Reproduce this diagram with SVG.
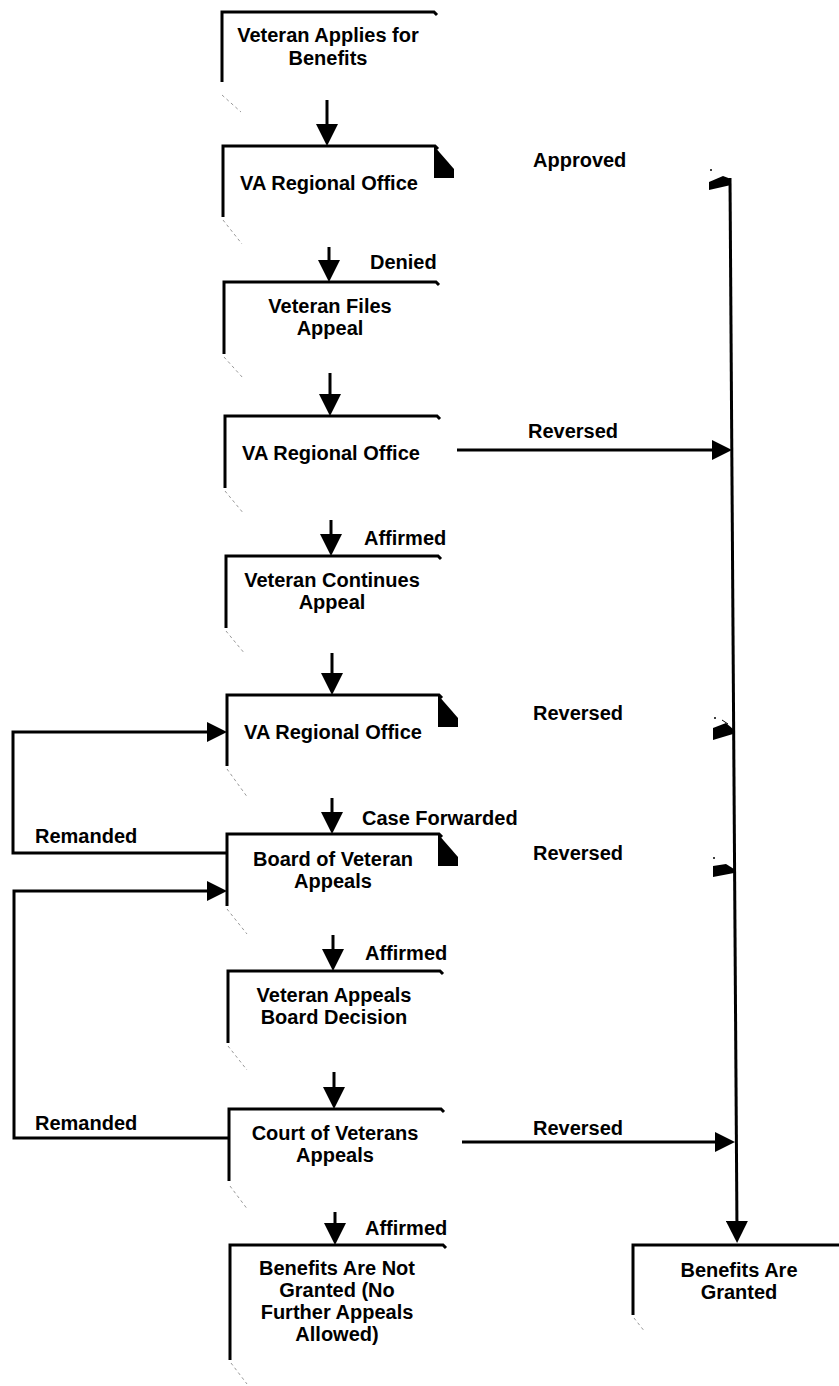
<svg xmlns="http://www.w3.org/2000/svg" width="839" height="1386" viewBox="0 0 839 1386">
<style>
.box{fill:none;stroke:#000;stroke-width:3;stroke-linejoin:miter}
.fold{fill:#000}
.t{font-family:"Liberation Sans",Arial,sans-serif;font-weight:bold;font-size:20px;text-anchor:middle;fill:#000}
.l{font-family:"Liberation Sans",Arial,sans-serif;font-weight:bold;font-size:20px;fill:#000}
.dash{stroke:#999;stroke-width:1;stroke-dasharray:3 3;fill:none}
.c{fill:none;stroke:#000;stroke-width:3}
.h{fill:#000}
</style>
<defs>
<marker id="ad" markerUnits="userSpaceOnUse" markerWidth="22" markerHeight="22" refX="12" refY="11" orient="auto" viewBox="0 0 22 22">
<path d="M0,0 L22,11 L0,22 Z" fill="#000"/>
</marker>
<marker id="ar" markerUnits="userSpaceOnUse" markerWidth="20" markerHeight="20" refX="10" refY="10" orient="auto" viewBox="0 0 20 20">
<path d="M0,0 L20,10 L0,20 Z" fill="#000"/>
</marker>
</defs>

<g id="n1">
<path class="box" d="M222,82 V12 H434 l3,3"/>
<text class="t" x="328" y="42">Veteran Applies for</text>
<text class="t" x="328" y="65">Benefits</text>
<line class="dash" x1="222" y1="95" x2="241" y2="112"/>
</g>
<g id="n2">
<path class="box" d="M223,217 V146 H435 l3,3"/>
<polygon class="fold" points="434,146 454,169 454,178 434,178"/>
<text class="t" x="329" y="190">VA Regional Office</text>
<line class="dash" x1="223" y1="220" x2="242" y2="244"/>
</g>
<g id="n3">
<path class="box" d="M224,354 V282 H436 l3,3"/>
<text class="t" x="330" y="313">Veteran Files</text>
<text class="t" x="330" y="335">Appeal</text>
<line class="dash" x1="224" y1="357" x2="243" y2="378"/>
</g>
<g id="n4">
<path class="box" d="M225,488 V416 H437 l3,3"/>
<text class="t" x="331" y="460">VA Regional Office</text>
<line class="dash" x1="225" y1="491" x2="244" y2="514"/>
</g>
<g id="n5">
<path class="box" d="M226,628 V556 H438 l3,3"/>
<text class="t" x="332" y="587">Veteran Continues</text>
<text class="t" x="332" y="609">Appeal</text>
<line class="dash" x1="226" y1="631" x2="245" y2="654"/>
</g>
<g id="n6">
<path class="box" d="M227,766 V695 H439 l3,3"/>
<polygon class="fold" points="438,695 458,718 458,727 438,727"/>
<text class="t" x="333" y="739">VA Regional Office</text>
<line class="dash" x1="227" y1="769" x2="248" y2="798"/>
</g>
<g id="n7">
<path class="box" d="M227,906 V834 H439 l3,3"/>
<polygon class="fold" points="438,834 458,857 458,866 438,866"/>
<text class="t" x="333" y="866">Board of Veteran</text>
<text class="t" x="333" y="888">Appeals</text>
<line class="dash" x1="227" y1="909" x2="247" y2="934"/>
</g>
<g id="n8">
<path class="box" d="M228,1043 V971 H440 l3,3"/>
<text class="t" x="334" y="1002">Veteran Appeals</text>
<text class="t" x="334" y="1024">Board Decision</text>
<line class="dash" x1="228" y1="1046" x2="247" y2="1070"/>
</g>
<g id="n9">
<path class="box" d="M229,1181 V1109 H441 l3,3"/>
<text class="t" x="335" y="1140">Court of Veterans</text>
<text class="t" x="335" y="1162">Appeals</text>
<line class="dash" x1="230" y1="1186" x2="248" y2="1210"/>
</g>
<g id="n10">
<path class="box" d="M230,1360 V1245 H443 l3,3"/>
<text class="t" x="337" y="1275">Benefits Are Not</text>
<text class="t" x="337" y="1297">Granted (No</text>
<text class="t" x="337" y="1319">Further Appeals</text>
<text class="t" x="337" y="1341">Allowed)</text>
<line class="dash" x1="231" y1="1363" x2="247" y2="1384"/>
</g>
<g id="n11">
<path class="box" d="M633,1315 V1245 H839"/>
<text class="t" x="739" y="1277">Benefits Are</text>
<text class="t" x="739" y="1299">Granted</text>
<line class="dash" x1="634" y1="1318" x2="645" y2="1332"/>
</g>

<g id="connectors">
<line class="c" x1="327" y1="100" x2="327" y2="136" marker-end="url(#ad)"/>
<line class="c" x1="329" y1="247" x2="329" y2="272" marker-end="url(#ad)"/>
<line class="c" x1="330" y1="373" x2="330" y2="406" marker-end="url(#ad)"/>
<line class="c" x1="331" y1="520" x2="331" y2="546" marker-end="url(#ad)"/>
<line class="c" x1="332" y1="653" x2="332" y2="685" marker-end="url(#ad)"/>
<line class="c" x1="332" y1="798" x2="332" y2="824" marker-end="url(#ad)"/>
<line class="c" x1="333" y1="935" x2="333" y2="961" marker-end="url(#ad)"/>
<line class="c" x1="334" y1="1072" x2="334" y2="1099" marker-end="url(#ad)"/>
<line class="c" x1="335" y1="1212" x2="335" y2="1235" marker-end="url(#ad)"/>

<line class="c" x1="730" y1="178" x2="737" y2="1233" marker-end="url(#ad)"/>

<line class="c" x1="457" y1="450" x2="722" y2="450" marker-end="url(#ar)"/>
<line class="c" x1="462" y1="1142" x2="725" y2="1142" marker-end="url(#ar)"/>

<polygon class="h" points="709,182 723,176 731,179 731,185 709,190"/>
<circle class="h" cx="711" cy="170" r="1"/>
<polygon class="h" points="713,728 726,723 733,729 733,734 713,740"/>
<line x1="722" y1="720" x2="728" y2="724" stroke="#000" stroke-width="1"/>
<circle class="h" cx="715" cy="718" r="1"/>
<polygon class="h" points="713,866 726,864 734,869 734,873 713,877"/>
<circle class="h" cx="714" cy="858" r="1"/>

<polyline class="c" points="227,853 13,853 13,732 217,732" marker-end="url(#ar)"/>
<polyline class="c" points="229,1138 14,1138 14,891 217,891" marker-end="url(#ar)"/>

<text class="l" x="370" y="269">Denied</text>
<text class="l" x="364" y="545">Affirmed</text>
<text class="l" x="362" y="825">Case Forwarded</text>
<text class="l" x="365" y="960">Affirmed</text>
<text class="l" x="365" y="1235">Affirmed</text>
<text class="l" x="533" y="167">Approved</text>
<text class="l" x="528" y="438">Reversed</text>
<text class="l" x="533" y="720">Reversed</text>
<text class="l" x="533" y="860">Reversed</text>
<text class="l" x="533" y="1135">Reversed</text>
<text class="l" x="35" y="843">Remanded</text>
<text class="l" x="35" y="1130">Remanded</text>
</g>
</svg>
